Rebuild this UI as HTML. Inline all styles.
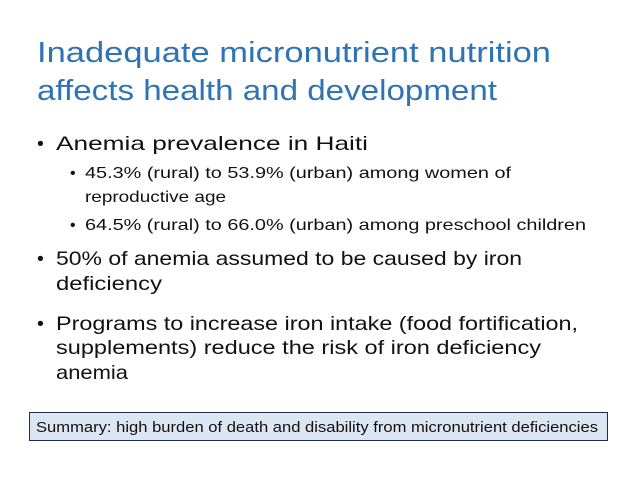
<!DOCTYPE html>
<html><head><meta charset="utf-8"><style>
html,body{margin:0;padding:0;background:#fff;}
svg{display:block;font-family:"Liberation Sans",sans-serif;}
</style></head><body>
<svg width="638" height="479" viewBox="0 0 638 479" xmlns="http://www.w3.org/2000/svg">
<rect width="638" height="479" fill="#fff"/>
<g fill="#2e74b5" font-size="29">
<text x="37" y="62" textLength="514" lengthAdjust="spacingAndGlyphs">Inadequate micronutrient nutrition</text>
<text x="37" y="100" textLength="460" lengthAdjust="spacingAndGlyphs">affects health and development</text>
</g>
<g fill="#111">
<text x="37" y="150" font-size="19.5">•</text>
<text x="56" y="150" font-size="19.5" textLength="312" lengthAdjust="spacingAndGlyphs">Anemia prevalence in Haiti</text>
<text x="70" y="178" font-size="16">•</text>
<text x="85" y="178" font-size="16" textLength="426" lengthAdjust="spacingAndGlyphs">45.3% (rural) to 53.9% (urban) among women of</text>
<text x="85" y="202" font-size="16" textLength="141" lengthAdjust="spacingAndGlyphs">reproductive age</text>
<text x="70" y="230" font-size="16">•</text>
<text x="85" y="230" font-size="16" textLength="501" lengthAdjust="spacingAndGlyphs">64.5% (rural) to 66.0% (urban) among preschool children</text>
<text x="37" y="265" font-size="19.5">•</text>
<text x="56" y="265" font-size="19.5" textLength="466" lengthAdjust="spacingAndGlyphs">50% of anemia assumed to be caused by iron</text>
<text x="56" y="290" font-size="19.5" textLength="106" lengthAdjust="spacingAndGlyphs">deficiency</text>
<text x="37" y="330" font-size="19.5">•</text>
<text x="56" y="330" font-size="19.5" textLength="522" lengthAdjust="spacingAndGlyphs">Programs to increase iron intake (food fortification,</text>
<text x="56" y="354" font-size="19.5" textLength="485" lengthAdjust="spacingAndGlyphs">supplements) reduce the risk of iron deficiency</text>
<text x="56" y="379" font-size="19.5" textLength="72" lengthAdjust="spacingAndGlyphs">anemia</text>
</g>
<g>
<rect x="29.5" y="412.5" width="578" height="28" fill="#dce6f2" stroke="#1f2f4a" stroke-width="1"/>
<text x="36" y="432" font-size="14.5" fill="#111" textLength="562" lengthAdjust="spacingAndGlyphs">Summary: high burden of death and disability from micronutrient deficiencies</text>
</g>
</svg>
</body></html>
